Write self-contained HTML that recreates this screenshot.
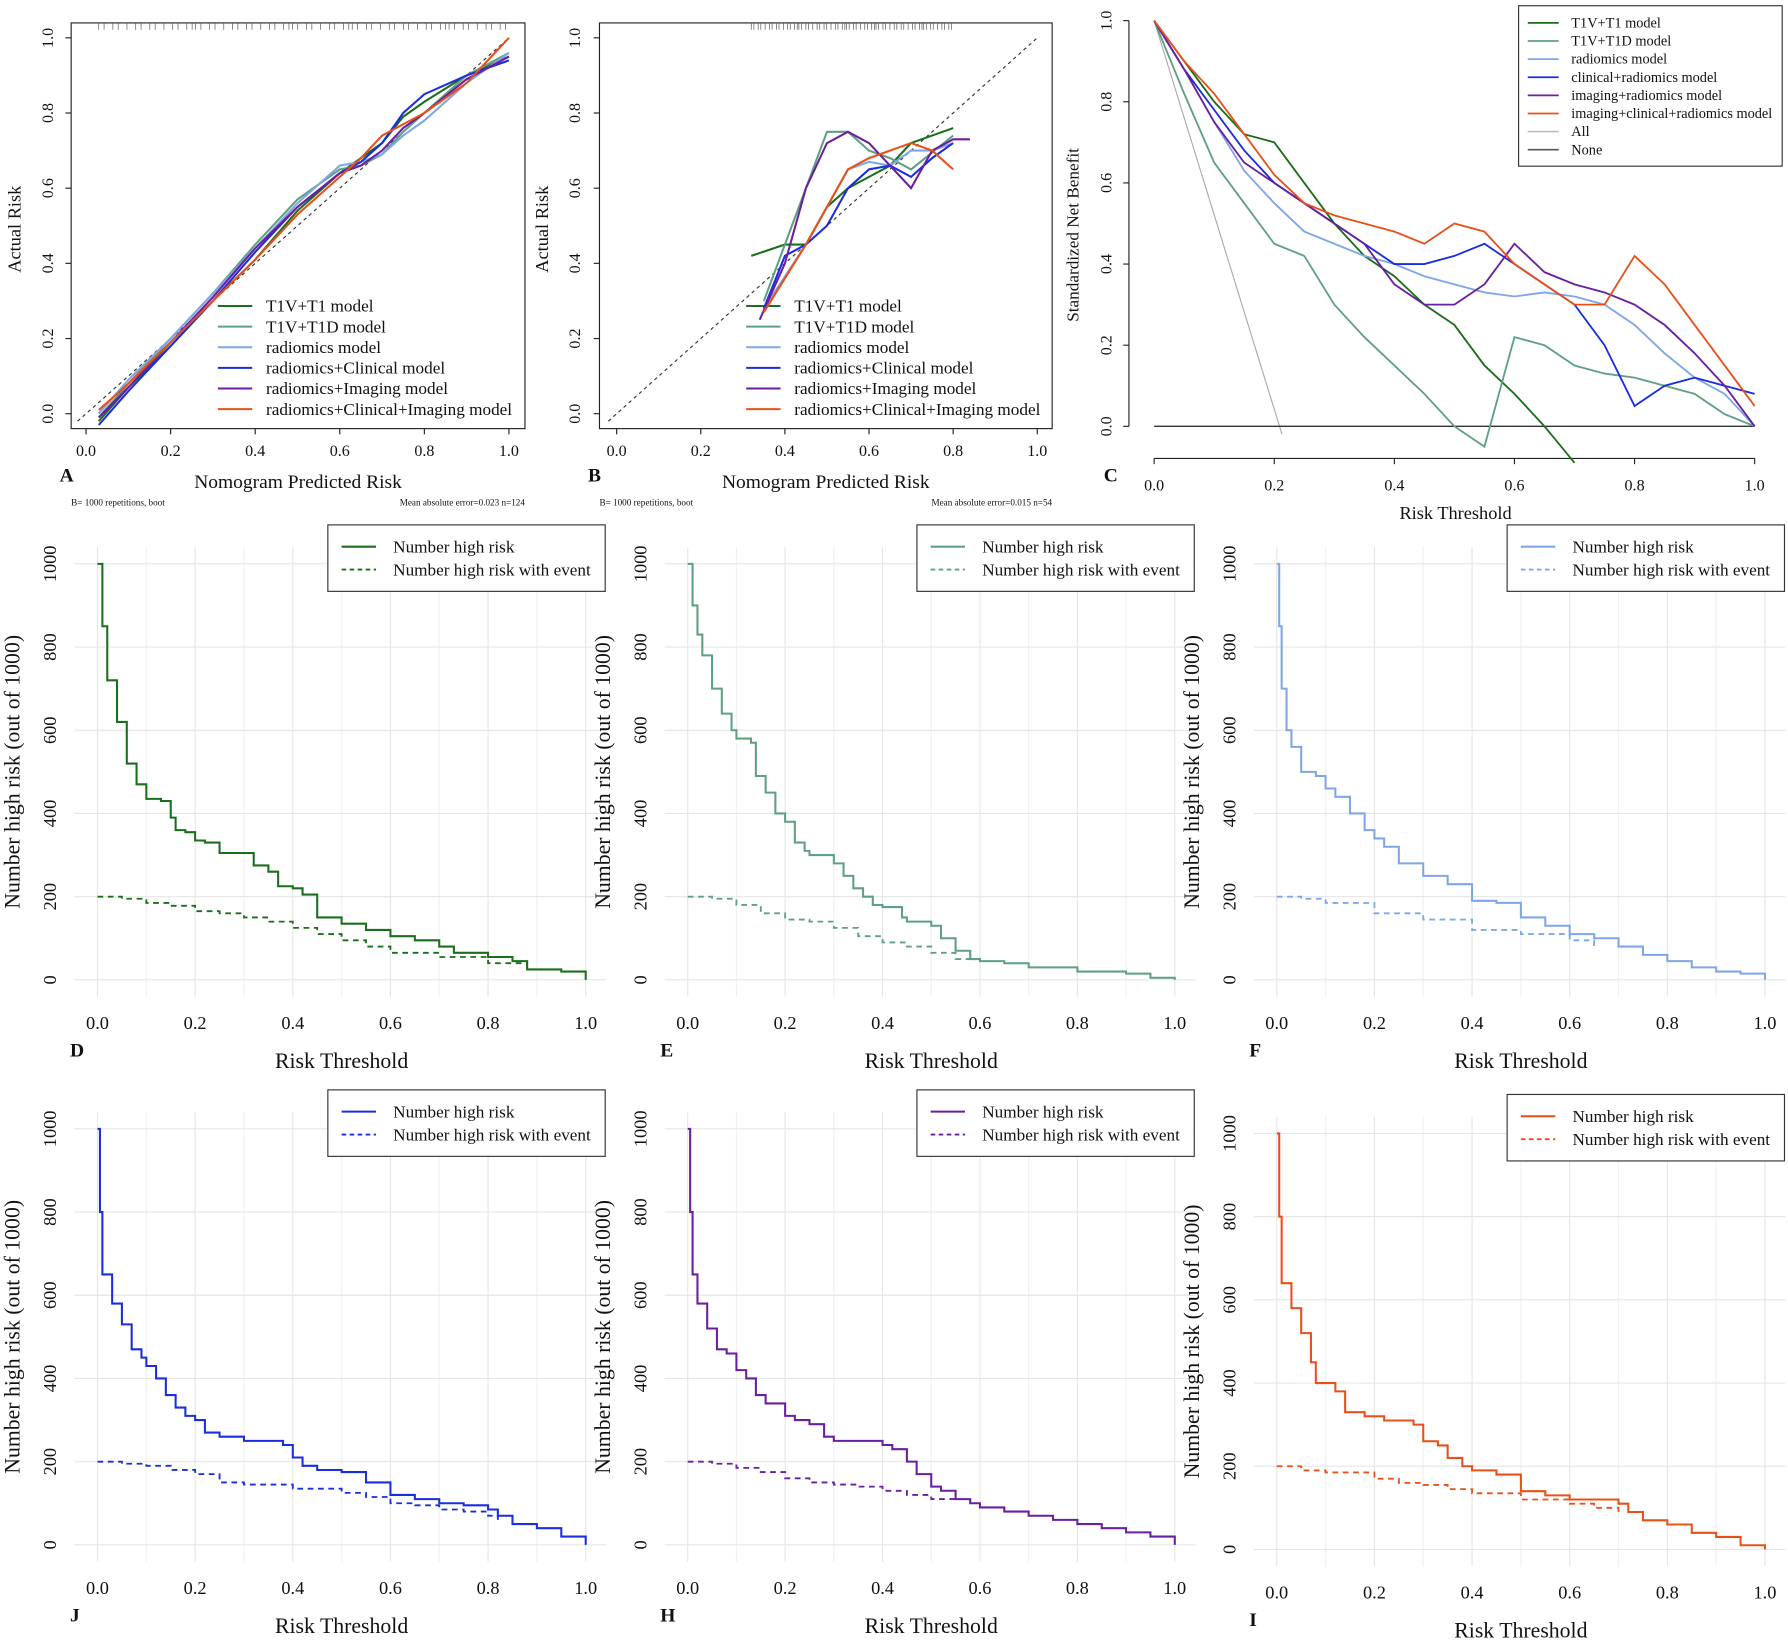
<!DOCTYPE html>
<html><head><meta charset="utf-8"><style>
html,body{margin:0;padding:0;background:#fff}
svg{display:block}
text{font-family:"Liberation Serif",serif;fill:#111}
</style></head><body>
<svg id="fig" xmlns="http://www.w3.org/2000/svg" width="1788" height="1648" viewBox="0 0 1560 1438"></svg>
<script>
// ===== Data =====
const colors=["#1b6e1b","#5fa082","#7fa6e6","#1a2de0","#6a1fa0","#e8501a"];
const calibNamesA=["T1V+T1 model","T1V+T1D model","radiomics model","radiomics+Clinical model","radiomics+Imaging model","radiomics+Clinical+Imaging model"];
const dcaNames=["T1V+T1 model","T1V+T1D model","radiomics model","clinical+radiomics model","imaging+radiomics model","imaging+clinical+radiomics model"];
const calAx=[.03,.1,.2,.3,.4,.5,.6,.65,.7,.75,.8,.9,1.0];
const calAy0=[-.02,.07,.18,.3,.41,.54,.64,.68,.72,.79,.83,.9,.95];
const calAy1=[-.01,.08,.2,.32,.45,.57,.65,.66,.69,.75,.8,.9,.96];
const calAy2=[0,.09,.2,.32,.44,.56,.66,.67,.69,.74,.78,.88,.96];
const calAy3=[-.03,.06,.18,.3,.43,.55,.64,.67,.72,.8,.85,.9,.94];
const calAy4=[-.01,.07,.19,.31,.44,.55,.64,.66,.7,.76,.8,.89,.95];
const calAy5=[.01,.08,.19,.3,.41,.53,.63,.68,.74,.77,.8,.88,1.0];
const calBx=[[.32,.4,.45,.5,.55,.6,.65,.7,.75,.8],[.35,.45,.5,.55,.6,.65,.7,.8],[.35,.45,.55,.6,.65,.7,.75,.8],[.35,.4,.45,.5,.55,.6,.65,.7,.75,.8],[.34,.4,.45,.5,.55,.6,.65,.7,.75,.8,.84],[.35,.45,.5,.55,.6,.7,.75,.8]];
const calBy=[[.42,.45,.45,.55,.6,.63,.66,.72,.74,.76],[.3,.6,.75,.75,.7,.68,.65,.74],[.28,.45,.65,.67,.66,.7,.7,.72],[.28,.42,.45,.5,.6,.65,.66,.63,.68,.72],[.25,.4,.6,.72,.75,.72,.66,.6,.7,.73,.73],[.27,.45,.55,.65,.68,.72,.7,.65]];
const dcaX=[0,.05,.1,.15,.2,.25,.3,.35,.4,.45,.5,.55,.6,.65,.7,.75,.8,.85,.9,.95,1];
const dca0=[1,.9,.8,.72,.7,.6,.5,.42,.37,.3,.25,.15,.08,0,-.1,null,null,null,null,null,null];
const dca1=[1,.82,.65,.55,.45,.42,.3,.22,.15,.08,0,-.05,.22,.2,.15,.13,.12,.1,.08,.03,0];
const dca2=[1,.88,.75,.63,.55,.48,.45,.42,.4,.37,.35,.33,.32,.33,.32,.3,.25,.18,.12,.08,0];
const dca3=[1,.88,.78,.68,.6,.55,.5,.45,.4,.4,.42,.45,.4,.35,.3,.2,.05,.1,.12,.1,.08];
const dca4=[1,.88,.75,.65,.6,.55,.5,.45,.35,.3,.3,.35,.45,.38,.35,.33,.3,.25,.18,.1,0];
const dca5=[1,.9,.82,.72,.62,.55,.52,.5,.48,.45,.5,.48,.4,.35,.3,.3,.42,.35,.25,.15,.05];
const hrX=[[0,.01,.02,.04,.06,.08,.1,.13,.15,.16,.18,.2,.22,.25,.3,.32,.35,.37,.4,.42,.45,.5,.55,.6,.65,.7,.73,.8,.85,.88,.95,1],
[0,.01,.02,.03,.05,.07,.09,.1,.13,.14,.16,.18,.2,.22,.24,.25,.3,.32,.34,.36,.38,.4,.44,.45,.5,.52,.55,.58,.6,.65,.7,.8,.9,.95,1],
[0,.005,.01,.02,.03,.05,.08,.1,.12,.15,.18,.2,.22,.25,.3,.35,.4,.45,.5,.55,.6,.65,.7,.75,.8,.85,.9,.95,1],
[0,.005,.01,.03,.05,.07,.09,.1,.12,.14,.16,.18,.2,.22,.25,.3,.35,.38,.4,.42,.45,.5,.55,.6,.65,.7,.75,.8,.82,.85,.9,.95,1],
[0,.005,.01,.02,.04,.06,.08,.1,.12,.14,.16,.2,.22,.25,.28,.3,.35,.4,.42,.45,.47,.5,.52,.55,.58,.6,.65,.7,.75,.8,.85,.9,.95,1],
[0,.005,.01,.03,.05,.07,.08,.1,.12,.14,.18,.22,.28,.3,.33,.35,.38,.4,.45,.5,.55,.6,.65,.7,.72,.75,.8,.85,.9,.95,1]];
const hrY=[[1000,850,720,620,520,470,435,430,390,360,355,335,330,305,305,275,260,225,220,205,150,135,120,105,95,80,65,55,45,25,20,0],
[1000,900,830,780,700,640,600,580,570,490,450,400,380,330,310,300,280,250,220,200,180,175,150,140,130,100,70,50,45,40,30,20,15,5,0],
[1000,850,700,600,560,500,490,460,440,400,360,340,320,280,250,230,190,185,150,130,110,100,80,60,45,30,20,15,0],
[1000,800,650,580,530,470,450,430,400,360,330,310,300,270,260,250,250,240,210,190,180,175,150,120,110,100,95,85,70,50,40,20,0],
[1000,800,650,580,520,470,460,420,400,360,340,310,300,290,260,250,250,240,230,200,170,140,130,110,100,90,80,70,60,50,40,30,20,0],
[1000,800,640,580,520,450,400,400,380,330,320,310,300,260,250,220,200,190,180,140,130,120,120,110,90,70,60,40,30,10,0]];
const evX=[[0,.05,.1,.15,.2,.25,.3,.35,.4,.45,.5,.55,.6,.7,.8,.88],[0,.05,.1,.15,.2,.25,.3,.35,.4,.45,.5,.55,.6],[0,.05,.1,.2,.3,.4,.5,.6,.65],[0,.05,.1,.15,.2,.25,.3,.4,.5,.55,.6,.65,.7,.75,.8,.82],[0,.05,.1,.15,.2,.25,.3,.35,.4,.45,.5,.55],[0,.05,.1,.2,.25,.3,.35,.4,.5,.6,.65,.7]];
const evY=[[200,195,185,178,165,160,150,140,125,110,95,80,65,55,40,30],[200,195,180,160,145,140,125,105,90,80,65,50,45],[200,195,185,160,145,120,110,95,80],[200,195,190,180,170,150,145,135,125,115,100,95,85,80,70,60],[200,195,185,175,160,150,145,140,130,120,110,100],[200,190,185,170,160,155,145,135,120,110,100,90]];
const tickV=[0,.2,.4,.6,.8,1];
const tickL=["0.0","0.2","0.4","0.6","0.8","1.0"];
const hrTicks=[0,200,400,600,800,1000];

// ===== Helpers =====
const NS="http://www.w3.org/2000/svg";const svg=document.getElementById('fig');
function el(tag,at,parent){const e=document.createElementNS(NS,tag);for(const k in at)e.setAttribute(k,at[k]);(parent||svg).appendChild(e);return e;}
function txt(x,y,s,size,anchor,rot,parent){const t=el('text',{x:x,y:y,'font-size':size,'text-anchor':anchor||'start'},parent);if(rot)t.setAttribute('transform',`rotate(-90 ${x} ${y})`);t.textContent=s;return t;}
function mk(x0,x1,y0,y1){return{x:v=>x0+(x1-x0)*v,y:v=>y0+(y1-y0)*v};}

// ===== Calibration panels =====
function calib(box,ax,ys,xs,name,letter,mae){
  const g=el('g',{});
  el('rect',{x:box[0],y:box[1],width:box[2]-box[0],height:box[3]-box[1],fill:'none',stroke:'#222','stroke-width':1},g);
  const s=mk(ax[0],ax[1],361,33);
  tickV.forEach((v,i)=>{const X=s.x(v),Y=s.y(v);
    el('line',{x1:X,x2:X,y1:box[3],y2:box[3]+5,stroke:'#222'},g);txt(X,398,tickL[i],14,'middle',0,g);
    el('line',{x1:box[0]-5,x2:box[0],y1:Y,y2:Y,stroke:'#222'},g);txt(46,Y,tickL[i],14,'middle',1,g);});
  el('line',{x1:s.x(-.02),y1:s.y(-.02),x2:s.x(1),y2:s.y(1),stroke:'#333','stroke-dasharray':'3,3'},g);
  for(let i=0;i<60;i++){const X=s.x(xs[0][0]+ (i*0.61803%1)*(xs[0][xs[0].length-1]-xs[0][0]));el('line',{x1:X,x2:X,y1:box[1],y2:box[1]+6,stroke:'#555','stroke-width':.6},g);}
  ys.forEach((arr,k)=>{const xa=xs[k];const p=el('polyline',{points:arr.map((v,i)=>s.x(xa[i])+','+s.y(v)).join(' '),fill:'none',stroke:colors[k],'stroke-width':1.8},g);
    
    el('line',{x1:box[0]+128,x2:box[0]+158,y1:267+k*18,y2:267+k*18,stroke:colors[k],'stroke-width':1.8},g);
    txt(box[0]+170,272+k*18,calibNamesA[k],15,'start',0,g);});
  txt(18,200,'Actual Risk',16,'middle',1,g);
  txt((box[0]+box[2])/2,426,'Nomogram Predicted Risk',17,'middle',0,g);
  txt(box[0]-10,420,letter,17,'start',0,g).setAttribute('font-weight','bold');
  txt(box[0],441,'B= 1000 repetitions, boot',8,'start',0,g);
  txt(box[2],441,mae,8,'end',0,g);
  return g;}
calib([62,20,458,374],[75,444],[calAy0,calAy1,calAy2,calAy3,calAy4,calAy5],[calAx,calAx,calAx,calAx,calAx,calAx],'panel-a-calibration','A','Mean absolute error=0.023 n=124');
const gB=calib([523,20,918,374],[538,905],calBy,calBx,'panel-b-calibration','B','Mean absolute error=0.015 n=54');
gB.querySelectorAll('text').forEach(t=>{if(t.textContent==='Actual Risk')t.setAttribute('x',478),t.setAttribute('transform','rotate(-90 478 200)');if(['0.0','0.2','0.4','0.6','0.8','1.0'].includes(t.textContent)&&t.getAttribute('transform')){const y=t.getAttribute('y');t.setAttribute('x',506);t.setAttribute('transform',`rotate(-90 506 ${y})`);}});

// ===== Panel C DCA =====
(function(){const g=el('g',{});
 const s=mk(1007,1531,372,18);
 el('line',{x1:1007,x2:1531,y1:400,y2:400,stroke:'#222'},g);el('line',{x1:985,x2:985,y1:18,y2:372,stroke:'#222'},g);
 tickV.forEach((v,i)=>{const X=s.x(v),Y=s.y(v);el('line',{x1:X,x2:X,y1:400,y2:405,stroke:'#222'},g);txt(X,428,tickL[i],14,'middle',0,g);
  el('line',{x1:980,x2:985,y1:Y,y2:Y,stroke:'#222'},g);txt(970,Y,tickL[i],14,'middle',1,g);});
 el('line',{x1:s.x(0),y1:s.y(1),x2:s.x(.213),y2:s.y(-.02),stroke:'#aaa','stroke-width':1},g);
 el('line',{x1:s.x(0),y1:s.y(0),x2:s.x(1),y2:s.y(0),stroke:'#333','stroke-width':1.2},g);
 [dca0,dca1,dca2,dca3,dca4,dca5].forEach((arr,k)=>{const pts=[];arr.forEach((v,i)=>{if(v!==null)pts.push(s.x(dcaX[i])+','+s.y(Math.max(v,-.09)));});
  const p=el('polyline',{points:pts.join(' '),fill:'none',stroke:colors[k],'stroke-width':1.6},g);});
 txt(941,205,'Standardized Net Benefit',15,'middle',1,g);
 txt(1270,453,'Risk Threshold',16,'middle',0,g);
 txt(963,420,'C',17,'start',0,g).setAttribute('font-weight','bold');
 const lg=el('g',{},g);
 el('rect',{x:1325,y:5,width:230,height:140,fill:'#fff',stroke:'#333'},lg);
 const ln=dcaNames.concat(['All','None']);const lc=colors.concat(['#bbb','#555']);
 ln.forEach((n,k)=>{const Y=20+k*15.8;el('line',{x1:1333,x2:1360,y1:Y,y2:Y,stroke:lc[k],'stroke-width':1.5},lg);txt(1371,Y+4,n,12.5,'start',0,lg);});
})();

// ===== Clinical impact panels =====
function impact(k,x0,x1,y0,y1,letter,name){
 const g=el('g',{});
 const s=mk(x0,x1,y0,y1);const span=(x1-x0);
 tickV.forEach(v=>{const X=s.x(v);el('line',{x1:X,x2:X,y1:y1-(y0-y1)*0.04,y2:y0+(y0-y1)*0.04,stroke:'#e6e6e6'},g);});
 for(let v=0.1;v<1;v+=0.2){const X=s.x(v);el('line',{x1:X,x2:X,y1:y1-15,y2:y0+15,stroke:'#f1f1f1'},g);}
 hrTicks.forEach(v=>{const Y=y0+(y1-y0)*v/1000;el('line',{x1:x0-20,x2:x1+18,y1:Y,y2:Y,stroke:'#e6e6e6'},g);});
 tickV.forEach((v,i)=>txt(s.x(v),y0+43,tickL[i],16,'middle',0,g));
 hrTicks.forEach(v=>{const Y=y0+(y1-y0)*v/1000;txt(x0-36,Y,String(v),16,'middle',1,g);});
 function step(xs,ys){let pts=[];xs.forEach((x,i)=>{if(i>0)pts.push(s.x(x)+','+(y0+(y1-y0)*ys[i-1]/1000));pts.push(s.x(x)+','+(y0+(y1-y0)*ys[i]/1000));});return pts.join(' ');}
 const a=el('polyline',{points:step(hrX[k],hrY[k]),fill:'none',stroke:colors[k],'stroke-width':1.8},g);
 const b=el('polyline',{points:step(evX[k],evY[k]),fill:'none',stroke:colors[k],'stroke-width':1.6,'stroke-dasharray':'5,4'},g);
 const lx=x1-225,ly=y1-34;const lg=el('g',{},g);
 el('rect',{x:lx,y:ly,width:242,height:58,fill:'#fff',stroke:'#333'},lg);
 el('line',{x1:lx+12,x2:lx+42,y1:ly+19,y2:ly+19,stroke:colors[k],'stroke-width':1.8},lg);
 el('line',{x1:lx+12,x2:lx+42,y1:ly+39,y2:ly+39,stroke:colors[k],'stroke-width':1.6,'stroke-dasharray':'4,3'},lg);
 txt(lx+57,ly+24,'Number high risk',15,'start',0,lg);txt(lx+57,ly+44,'Number high risk with event',15,'start',0,lg);
 txt((x0+x1)/2,y0+77,'Risk Threshold',19,'middle',0,g);
 txt(x0-24,y0+67,letter,17,'start',0,g).setAttribute('font-weight','bold');
 txt(x0-68,(y0+y1)/2,'Number high risk (out of 1000)',19,'middle',1,g);}
impact(0,85,511,855,492,'D','panel-d-impact');
impact(1,600,1025,855,492,'E','panel-e-impact');
impact(2,1114,1540,855,492,'F','panel-f-impact');
impact(3,85,511,1348,985,'J','panel-j-impact');
impact(4,600,1025,1348,985,'H','panel-h-impact');
impact(5,1114,1540,1352,989,'I','panel-i-impact');
</script>
</body></html>
